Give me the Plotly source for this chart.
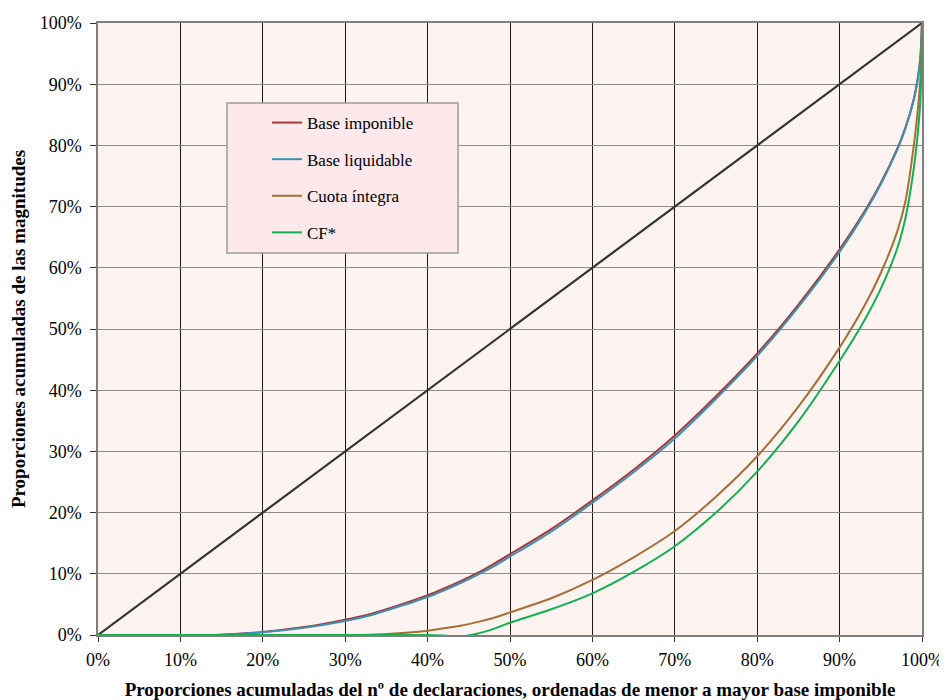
import plotly.graph_objects as go

# Cumulative share of declarations (%)
x_pct = [0, 5, 10, 15, 20, 25, 30, 33, 35, 40, 42, 44, 46, 48, 50, 55, 60, 65, 70, 75,
         80, 85, 90, 93, 95, 97, 98, 99, 99.5, 99.8, 100]

base_imponible = [0, 0, 0, 0.05, 0.5, 1.3, 2.5, 3.4, 4.2, 6.5, 7.6, 8.8, 10.1, 11.6, 13.2, 17.3,
                  22.0, 27.0, 32.6, 39.0, 46.0, 54.0, 63.0, 69.15, 73.85, 79.45, 82.95, 87.55, 91.05, 94.35, 100]
base_liquidable = [0, 0, 0, 0.04, 0.45, 1.2, 2.3, 3.2, 4.0, 6.2, 7.3, 8.5, 9.8, 11.2, 12.8, 16.9,
                   21.6, 26.6, 32.1, 38.6, 45.6, 53.6, 62.6, 68.85, 73.65, 79.3, 82.8, 87.45, 90.95, 94.3, 100]
cuota_integra = [0, 0, 0, 0, 0, 0, 0, 0.05, 0.15, 0.7, 1.1, 1.5, 2.1, 2.8, 3.7, 6.0,
                 9.0, 12.7, 17.0, 22.6, 29.2, 37.3, 47.0, 53.75, 59.15, 65.95, 70.95, 79.95, 85.95, 90.75, 100]
cf = [0, 0, 0, 0, 0, 0, 0, 0, 0, 0, -0.1, -0.25, 0.2, 1.0, 2.0, 4.2,
      6.8, 10.3, 14.5, 20.0, 26.7, 34.9, 44.8, 51.4, 56.6, 63.2, 68.2, 76.2, 82.2, 87.3, 100]

series_names = ["Base imponible", "Base liquidable", "Cuota íntegra", "CF*"]
series_values = [base_imponible, base_liquidable, cuota_integra, cf]
series_colors = ["#A63A3A", "#3F8FB5", "#A86E35", "#12B050"]

diag_x = [0, 100]
diag_y = [0, 100]

fig = go.Figure()

fig.add_trace(go.Scatter(
    x=[v / 100 for v in diag_x], y=[v / 100 for v in diag_y], mode="lines",
    line=dict(color="#333333", width=2.2), showlegend=False, hoverinfo="skip"))

for i, (name, vals, col) in enumerate(zip(series_names, series_values, series_colors)):
    fig.add_trace(go.Scatter(
        x=[v / 100 for v in x_pct], y=[v / 100 for v in vals], mode="lines",
        name=name, legendgroup=f"g{i}",
        line=dict(color=col, width=2, shape="spline", smoothing=0.9)))

font_family = "Liberation Serif, Times New Roman, serif"

# page body has an 8px margin, so the figure is offset by 8px in the window
fig.update_layout(
    width=939, height=692,
    margin=dict(l=90, r=25, t=15, b=65, autoexpand=False),
    paper_bgcolor="white",
    plot_bgcolor="#FDF4F2",
    font=dict(family=font_family, size=18, color="black"),
    showlegend=True,
    legend=dict(
        x=(267 - 98) / 824, y=0.866, xanchor="left", yanchor="top",
        bgcolor="rgba(0,0,0,0)", borderwidth=0,
        font=dict(family=font_family, size=17, color="black"),
        tracegroupgap=11.5, itemwidth=30,
    ),
    shapes=[dict(
        type="rect", xref="paper", yref="paper",
        x0=(227 - 98) / 824, x1=(458 - 98) / 824,
        y0=(635 - 253) / 612, y1=(635 - 103) / 612,
        fillcolor="#FDE8EC", line=dict(color="#9A9A9A", width=1.5), layer="above")],
)

fig.update_xaxes(
    range=[0, 1], dtick=0.1, tick0=0, tickformat=".0%",
    showgrid=True, gridcolor="#1a1a1a", gridwidth=1,
    showline=True, linecolor="#7f7f7f", linewidth=1.5, mirror=True,
    ticks="outside", ticklen=5, tickcolor="#333333",
    zeroline=False, automargin=False, ticklabelstandoff=3, ticklabeloverflow="allow",
    tickfont=dict(family=font_family, size=18),
    title=dict(text="<b>Proporciones acumuladas del nº de declaraciones, ordenadas de menor a mayor base imponible</b>",
               font=dict(family=font_family, size=19), standoff=20),
)
fig.update_yaxes(
    range=[0, 1], dtick=0.1, tick0=0, tickformat=".0%",
    showgrid=True, gridcolor="#8c8c8c", gridwidth=1,
    showline=True, linecolor="#7f7f7f", linewidth=1.5, mirror=True,
    ticks="outside", ticklen=6, tickcolor="#333333",
    zeroline=False, automargin=False, ticklabelstandoff=5, ticklabeloverflow="allow",
    tickfont=dict(family=font_family, size=18),
    title=dict(text="<b>Proporciones acumuladas de las magnitudes</b>",
               font=dict(family=font_family, size=19), standoff=11),
)

fig.write_html("out.html")
